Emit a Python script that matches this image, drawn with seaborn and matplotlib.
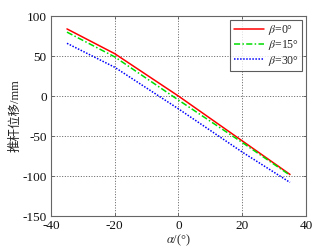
import matplotlib
matplotlib.use("Agg")
import matplotlib.pyplot as plt
import seaborn as sns
import pandas as pd

alpha = [-35, -20, 0, 20, 35]
beta0 = [84, 53, 0, -56, -98]
beta15 = [80, 49, -5, -58, -99]
beta30 = [66, 36, -16, -70, -108]
labels = [r"$\beta$=0°", r"$\beta$=15°", r"$\beta$=30°"]
colors = ["#ff0000", "#00dd00", "#0000ff"]
styles = ["-", (0, (4, 1.5, 1, 1.5)), (0, (1, 1))]

sns.set_style("ticks")
plt.rcParams["font.family"] = ["Liberation Serif", "Noto Sans CJK SC"]
plt.rcParams["mathtext.fontset"] = "stix"
plt.rcParams["axes.unicode_minus"] = False

fig = plt.figure(figsize=(3.21, 2.48), dpi=100)
ax = fig.add_axes([0.159, 0.129, 0.794, 0.806])

for ys, lab, c, ls in zip([beta0, beta15, beta30], labels, colors, styles):
    df = pd.DataFrame({"a": alpha, "y": ys})
    sns.lineplot(data=df, x="a", y="y", ax=ax, color=c, linestyle=ls,
                 linewidth=1.1, label=lab)

ax.set_xlim(-40, 40)
ax.set_ylim(-150, 100)
ax.set_xticks([-40, -20, 0, 20, 40])
ax.set_yticks([-150, -100, -50, 0, 50, 100])
ax.grid(True, color="#444444", linestyle=(0, (1.2, 2)), linewidth=0.6)
ax.tick_params(direction="in", length=2, labelsize=9.5, top=True, right=True,
               color="#555555", width=0.6, pad=3, labelcolor="#111111")
for s in ax.spines.values():
    s.set_color("#666666")
    s.set_linewidth(0.8)
ax.set_xlabel(r"$\alpha$/(°)", fontsize=9, labelpad=0)
ax.set_ylabel("推杆位移/mm", fontsize=9, labelpad=1)
leg = ax.legend(loc="upper right", fontsize=8.5, frameon=True, fancybox=False,
                edgecolor="#333333", handlelength=2.6, borderpad=0.3,
                labelspacing=0.1, handletextpad=0.3, borderaxespad=0.3)
leg.get_frame().set_linewidth(0.8)
fig.savefig("out.png", dpi=100)
